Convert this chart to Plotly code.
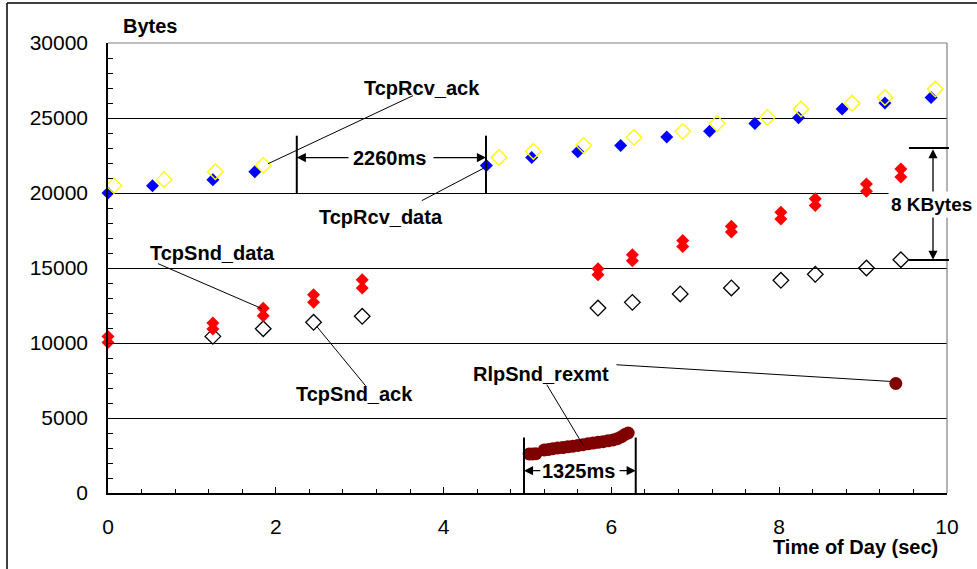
import plotly.graph_objects as go

# ---------------- data ----------------
rcv_data_x = [0.00, 0.53, 1.25, 1.75, 4.51, 5.05, 5.60, 6.11, 6.66, 7.17, 7.71, 8.23, 8.75, 9.26, 9.81]
rcv_data_y = [20000, 20490, 20890, 21420, 21840, 22370, 22750, 23170, 23730, 24110, 24640, 25020, 25600, 26000, 26370]

rcv_ack_x = [0.07, 0.67, 1.28, 1.85, 4.66, 5.07, 5.67, 6.27, 6.85, 7.26, 7.86, 8.26, 8.87, 9.26, 9.86]
rcv_ack_y = [20490, 20890, 21420, 21840, 22370, 22770, 23170, 23710, 24110, 24640, 25040, 25600, 25980, 26370, 26930]

snd_data_x = [0.00, 0.00, 1.25, 1.25, 1.85, 1.85, 2.45, 2.45, 3.03, 3.03,
              5.84, 5.84, 6.25, 6.25, 6.85, 6.85, 7.43, 7.43, 8.02, 8.02,
              8.43, 8.43, 9.04, 9.04, 9.45, 9.45]
snd_data_y = [10440, 10040, 11330, 10930, 12310, 11820, 13220, 12710, 14220, 13670,
              14950, 14550, 15890, 15490, 16840, 16440, 17780, 17400, 18710, 18270,
              19620, 19170, 20600, 20110, 21600, 21070]

snd_ack_x = [1.25, 1.85, 2.45, 3.03, 5.84, 6.25, 6.82, 7.43, 8.02, 8.43, 9.04, 9.45]
snd_ack_y = [10440, 10950, 11380, 11780, 12330, 12710, 13270, 13670, 14180, 14580, 15000, 15550]

rexmt_x = [5.02, 5.06, 5.10, 5.20, 5.25, 5.30, 5.36, 5.42, 5.48, 5.54, 5.60, 5.66, 5.72, 5.78,
           5.84, 5.90, 5.96, 6.02, 6.07, 6.12, 6.16, 6.20, 9.39]
rexmt_y = [2600, 2600, 2620, 2870, 2900, 2950, 3000, 3030, 3080, 3120, 3170, 3220, 3280, 3330,
           3380, 3420, 3480, 3540, 3620, 3750, 3900, 4000, 7300]

x_ticks = [0, 2, 4, 6, 8, 10]
y_ticks = [0, 5000, 10000, 15000, 20000, 25000, 30000]

FONT = "Liberation Sans, Arial, sans-serif"

# plot-area geometry in pixels (for paper-referenced decorations)
L, R, T, B = 108, 947, 43, 493
W, H = 977, 569


def pxx(px):
    return (px - L) / (R - L)


def pxy(py):
    return (B - py) / (B - T)


fig = go.Figure()

fig.add_trace(go.Scatter(x=snd_ack_x, y=snd_ack_y, mode="markers", name="TcpSnd_ack",
                         marker=dict(symbol="diamond-open", size=12, color="black",
                                     line=dict(width=1.3, color="black")), cliponaxis=False))
fig.add_trace(go.Scatter(x=snd_data_x, y=snd_data_y, mode="markers", name="TcpSnd_data",
                         marker=dict(symbol="diamond", size=10, color="#FF0000",
                                     line=dict(width=0)), cliponaxis=False))
fig.add_trace(go.Scatter(x=rcv_data_x, y=rcv_data_y, mode="markers", name="TcpRcv_data",
                         marker=dict(symbol="diamond", size=10, color="#0000FF",
                                     line=dict(width=0)), cliponaxis=False))
fig.add_trace(go.Scatter(x=rcv_ack_x, y=rcv_ack_y, mode="markers", name="TcpRcv_ack",
                         marker=dict(symbol="diamond-open", size=12, color="#FFFF00",
                                     line=dict(width=1.3, color="#FFFF00")), cliponaxis=False))
fig.add_trace(go.Scatter(x=rexmt_x, y=rexmt_y, mode="markers", name="RlpSnd_rexmt",
                         marker=dict(symbol="circle", size=13, color="#800000",
                                     line=dict(width=0)), cliponaxis=False))

shapes = []


def seg(x0, y0, x1, y1, width=1, color="black", ref="data"):
    if ref == "data":
        shapes.append(dict(type="line", xref="x", yref="y", x0=x0, y0=y0, x1=x1, y1=y1,
                           line=dict(color=color, width=width)))
    else:
        shapes.append(dict(type="line", xref="paper", yref="paper", x0=x0, y0=y0, x1=x1, y1=y1,
                           line=dict(color=color, width=width)))


# outer frame (left/top), grey plot border (top/right)
seg(pxx(7), pxy(3), pxx(7), pxy(H + 10), width=1.5, ref="paper")
seg(pxx(7), pxy(3), pxx(W + 10), pxy(3), width=1.5, ref="paper")
seg(0, 1, 1, 1, width=1.2, color="#808080", ref="paper")
seg(1, 0, 1, 1, width=1.2, color="#808080", ref="paper")

# label connector lines
seg(3.635, 26490, 1.907, 21950)           # TcpRcv_ack
seg(3.74, 19490, 4.49, 21690)             # TcpRcv_data
seg(0.596, 15290, 1.835, 12290)           # TcpSnd_data
seg(2.487, 11110, 3.07, 7150)             # TcpSnd_ack
seg(6.06, 8550, 9.32, 7440)               # RlpSnd_rexmt (isolated)
seg(5.23, 7220, 5.66, 3220)               # RlpSnd_rexmt (cluster)

# 2260ms bars
seg(2.25, 20000, 2.25, 23820, width=2)
seg(4.505, 20000, 4.505, 23820, width=2)
# 1325ms bars
seg(4.958, 0, 4.958, 3700, width=2)
seg(6.29, 0, 6.29, 3700, width=2)
# 8 KBytes horizontal bars (beyond plot edge -> paper)
seg(pxx(909), pxy(148), pxx(949), pxy(148), width=2, ref="paper")
seg(pxx(909), pxy(260), pxx(949), pxy(260), width=2, ref="paper")

annotations = []


def label(x, y, text, ref="data", xanchor="center", bg=None, size=20):
    a = dict(x=x, y=y, text=text, showarrow=False, xanchor=xanchor, yanchor="middle",
             font=dict(family=FONT, size=size, color="black"))
    if ref == "data":
        a.update(xref="x", yref="y")
    else:
        a.update(xref="paper", yref="paper")
    if bg:
        a.update(bgcolor=bg, borderpad=2)
    annotations.append(a)


def arrow(x, y, ax, ay, side="end"):
    annotations.append(dict(x=x, y=y, ax=ax, ay=ay, xref="x", yref="y", axref="x", ayref="y",
                            text="", showarrow=True, arrowhead=2, arrowsize=1.4,
                            arrowwidth=1.3, arrowcolor="black", arrowside=side))


label(pxx(150), pxy(26), "<b>Bytes</b>", ref="paper")
label(3.74, 27020, "<b>TcpRcv_ack</b>")
label(3.25, 18420, "<b>TcpRcv_data</b>")
label(1.24, 15990, "<b>TcpSnd_data</b>")
label(2.94, 6620, "<b>TcpSnd_ack</b>")
label(5.16, 7950, "<b>RlpSnd_rexmt</b>")
label(3.36, 22360, "<b>2260ms</b>")
label(5.61, 1490, "<b>1325ms</b>")
label(pxx(940), pxy(547), "<b>Time of Day (sec)</b>", ref="paper", xanchor="right")

# arrows
arrow(2.25, 22360, 2.884, 22360)
arrow(4.505, 22360, 3.862, 22360)
arrow(4.958, 1490, 5.17, 1490)
arrow(6.29, 1490, 6.08, 1490)
arrow(9.833, 15550, 9.833, 23020, side="end+start")
label(pxx(931), pxy(204), "<b>8 KBytes</b>", ref="paper", bg="white", size=19)

fig.update_layout(
    width=W, height=H,
    margin=dict(l=L, r=W - R, t=T, b=H - B, pad=0),
    paper_bgcolor="white", plot_bgcolor="white",
    showlegend=False,
    shapes=shapes, annotations=annotations,
    font=dict(family=FONT, color="black"),
    xaxis=dict(range=[0, 10], tickvals=x_ticks, ticktext=[str(v) for v in x_ticks],
               showgrid=False, zeroline=False, showline=True, linecolor="black", linewidth=1.5,
               ticks="inside", ticklen=6, tickcolor="black", tickwidth=1.2,
               ticklabelstandoff=14, tickfont=dict(family=FONT, size=21, color="black"),
               minor=dict(dtick=0.4, tick0=0, ticks="inside", ticklen=4, tickcolor="black",
                          showgrid=False)),
    yaxis=dict(range=[0, 30000], tickvals=y_ticks, ticktext=[str(v) for v in y_ticks],
               showgrid=True, gridcolor="black", gridwidth=1, zeroline=False,
               showline=True, linecolor="black", linewidth=1.5,
               ticks="inside", ticklen=5, tickcolor="black",
               ticklabelstandoff=14, tickfont=dict(family=FONT, size=21, color="black"),
               minor=dict(dtick=1000, tick0=0, ticks="inside", ticklen=5, tickcolor="black",
                          showgrid=False)),
)

fig.write_html("out.html", config={"displayModeBar": False},
               post_script="document.body.style.margin='0';")
